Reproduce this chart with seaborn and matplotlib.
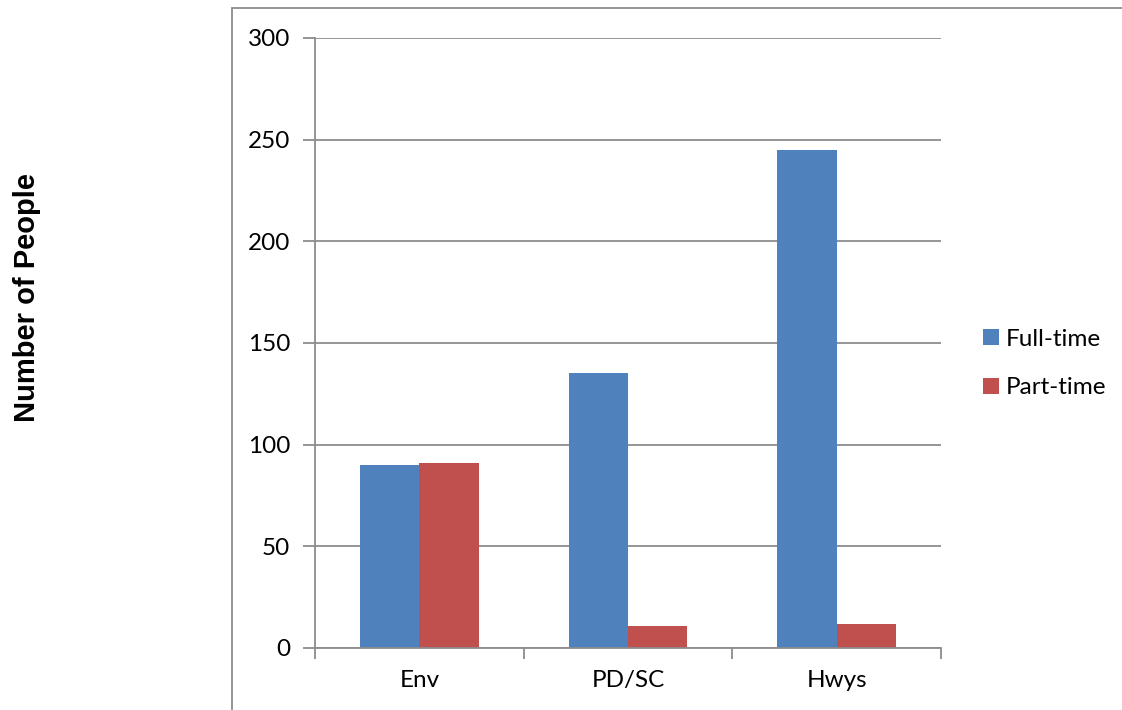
import matplotlib
matplotlib.use("Agg")
import matplotlib.pyplot as plt
from matplotlib.patches import Rectangle, Patch
import pandas as pd
import seaborn as sns

departments = ["Env", "PD/SC", "Hwys"]
full_time = [90, 135, 245]
part_time = [91, 11, 12]
series_names = ["Full-time", "Part-time"]
y_ticks = [0, 50, 100, 150, 200, 250, 300]

df = pd.DataFrame({
    "Department": departments * 2,
    "Count": full_time + part_time,
    "Type": [series_names[0]] * len(departments) + [series_names[1]] * len(departments),
})

sns.set_theme(style="white")
plt.rcParams["font.family"] = ["Lato", "DejaVu Sans"]
plt.rcParams["text.color"] = "black"

colors = ["#4F81BD", "#C0504D"]
grid_gray = "#8C8C8C"

fig = plt.figure(figsize=(11.22, 7.1), dpi=100)
fig.patch.set_facecolor("white")

# chart-area frame
fig.patches.append(Rectangle((232 / 1122, -0.1), 1.0, (710 - 8) / 710 + 0.1,
                             transform=fig.transFigure, fill=False,
                             edgecolor=grid_gray, linewidth=1.3))

ax = fig.add_axes([315 / 1122, (710 - 648) / 710, (941 - 315) / 1122, (648 - 38) / 710])
sns.barplot(data=df, x="Department", y="Count", hue="Type", palette=colors,
            width=0.57, saturation=1, linewidth=0, ax=ax, legend=False)

ax.set_ylim(0, 300)
ax.set_xlim(-0.5, 2.5)
ax.set_yticks(y_ticks)
ax.set_yticklabels([str(t) for t in y_ticks], fontsize=17.5)
ax.yaxis.grid(True, color=grid_gray, linewidth=1.3)
ax.set_axisbelow(True)
ax.set_xlabel("")
ax.set_ylabel("")

for s in ["top", "right"]:
    ax.spines[s].set_visible(False)
for s in ["left", "bottom"]:
    ax.spines[s].set_color(grid_gray)
    ax.spines[s].set_linewidth(1.3)

ax.tick_params(axis="y", length=9, width=1.3, color=grid_gray, pad=9, labelcolor="black")
ax.tick_params(axis="x", which="major", length=0, pad=16, labelsize=17.5, labelcolor="black")
ax.set_xticks([-0.5, 0.5, 1.5, 2.5], minor=True)
ax.tick_params(axis="x", which="minor", length=8, width=1.3, color=grid_gray, direction="out")
ax.tick_params(axis="both", bottom=True, left=True)
ax.xaxis.set_tick_params(which="minor", bottom=True)

fig.text(27 / 1122, 1 - 298 / 710, "Number of People", rotation=90, ha="center", va="center",
         fontsize=21, fontweight="bold", color="black",
         family=["Liberation Sans", "DejaVu Sans"])

handles = [Patch(facecolor=c, edgecolor="none") for c in colors]
fig.legend(handles, series_names, loc="center left", bbox_to_anchor=(983 / 1122, 1 - 363.5 / 710),
           frameon=False, fontsize=17.5, handlelength=0.65, handleheight=0.65,
           handletextpad=0.3, labelspacing=1.15, borderpad=0, borderaxespad=0,
           labelcolor="black")

fig.savefig("out.png", dpi=100, facecolor="white")
